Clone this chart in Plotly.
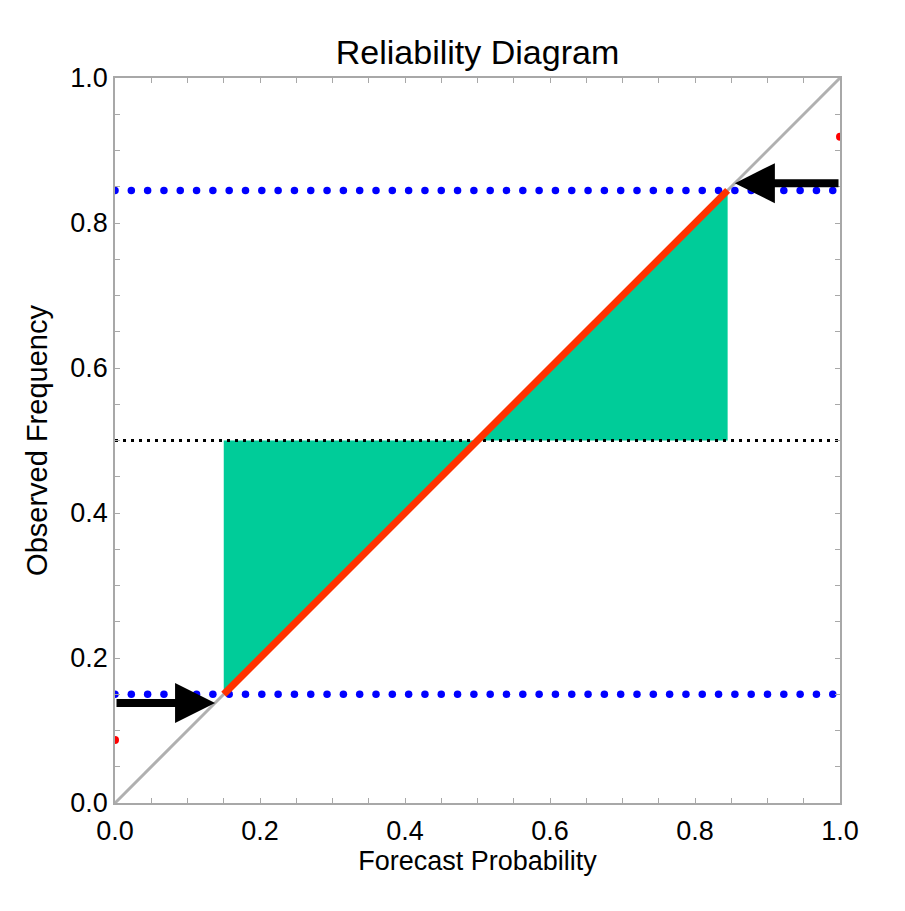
import numpy as np
import plotly.graph_objects as go

# ---- data ----
diag_x = [0.0, 1.0]
diag_y = [0.0, 1.0]
climatology = 0.5
lower_prob = 0.15
upper_prob = 0.845
reliab_x = [0.15, 0.5, 0.845]
reliab_y = [0.15, 0.5, 0.845]
edge_pts_x = [0.0, 1.0]
edge_pts_y = [0.087, 0.919]
arrow_low = (0.138, 0.138)
arrow_high = (0.855, 0.855)
tick_vals = [0.0, 0.2, 0.4, 0.6, 0.8, 1.0]
tick_text = ["0.0", "0.2", "0.4", "0.6", "0.8", "1.0"]

# page body has an 8px margin; keep the figure inside the window
W, H = 889, 895
ML, MT = 107, 70
MR, MB = W - 832, H - 795

FONT = "Liberation Sans, Arial, sans-serif"
GREEN = "#00CC99"
RED = "#FF3300"
GRAY = "#B0B0B0"

fig = go.Figure()

# green fill between climatology and reliability line
fig.add_trace(go.Scatter(x=reliab_x, y=[climatology] * len(reliab_x), mode="lines",
                         line=dict(width=0, color=GREEN), showlegend=False, hoverinfo="skip"))
fig.add_trace(go.Scatter(x=reliab_x, y=reliab_y, mode="lines", fill="tonexty",
                         fillcolor=GREEN, line=dict(width=0, color=GREEN),
                         showlegend=False, hoverinfo="skip"))

# diagonal
fig.add_trace(go.Scatter(x=diag_x, y=diag_y, mode="lines",
                         line=dict(color=GRAY, width=3), showlegend=False))

# climatology dotted
fig.add_trace(go.Scatter(x=diag_x, y=[climatology, climatology], mode="lines",
                         line=dict(color="black", width=3, dash="3px,5px"), showlegend=False))

# blue dotted threshold lines (round dots)
dot_x = np.arange(0.0, 1.0, 0.0225)
for yv in (lower_prob, upper_prob):
    fig.add_trace(go.Scatter(x=dot_x, y=[yv] * len(dot_x), mode="markers",
                             marker=dict(color="#0000FF", size=7.5, line=dict(width=0)),
                             showlegend=False))

# red reliability segment
fig.add_trace(go.Scatter(x=[reliab_x[0], reliab_x[-1]], y=[reliab_y[0], reliab_y[-1]],
                         mode="lines", line=dict(color=RED, width=7), showlegend=False))

# red edge points (clipped)
fig.add_trace(go.Scatter(x=edge_pts_x, y=edge_pts_y, mode="markers",
                         marker=dict(color="red", size=8, line=dict(width=0)),
                         showlegend=False))

# arrows
fig.add_annotation(x=arrow_low[0], y=arrow_low[1], ax=0.0, ay=arrow_low[1],
                   xref="x", yref="y", axref="x", ayref="y", text="",
                   showarrow=True, arrowhead=2, arrowsize=1.0, arrowwidth=8,
                   arrowcolor="black", standoff=0)
fig.add_annotation(x=arrow_high[0], y=arrow_high[1], ax=1.0, ay=arrow_high[1],
                   xref="x", yref="y", axref="x", ayref="y", text="",
                   showarrow=True, arrowhead=2, arrowsize=1.0, arrowwidth=8,
                   arrowcolor="black", standoff=0)

axis_common = dict(
    range=[0, 1], tickvals=tick_vals, ticktext=tick_text,
    showgrid=False, zeroline=False, showline=True, linecolor="#A8A8A8", linewidth=1.5,
    mirror="ticks", ticks="inside", ticklen=5, tickcolor="#A8A8A8", tickwidth=1,
    minor=dict(dtick=0.05, ticks="inside", ticklen=5, tickcolor="#A8A8A8", tickwidth=1, showgrid=False),
    tickfont=dict(family=FONT, size=27, color="black"),
)

fig.update_layout(
    width=W, height=H,
    margin=dict(l=ML, r=MR, t=MT, b=MB, pad=0),
    paper_bgcolor="white", plot_bgcolor="white",
    title=dict(text="Reliability Diagram", x=0.5, xref="paper", xanchor="center",
               y=1 - 44 / H, yref="container", yanchor="middle",
               font=dict(family=FONT, size=34, color="black")),
    xaxis=dict(**axis_common, ticklabelstandoff=3,
               title=dict(text="Forecast Probability", standoff=2,
                          font=dict(family=FONT, size=27, color="black"))),
    yaxis=dict(**axis_common,
               title=dict(text="Observed Frequency", standoff=14,
                          font=dict(family=FONT, size=29, color="black"))),
    showlegend=False,
)

fig.write_html("out.html")
